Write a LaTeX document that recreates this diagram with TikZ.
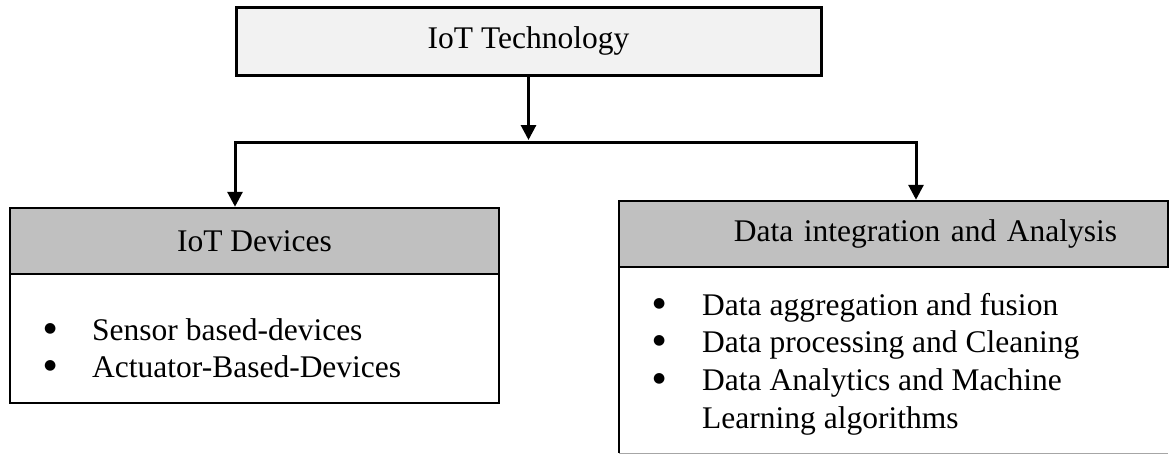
\documentclass[tikz,border=0pt]{standalone}
\usepackage{fontspec}
\setmainfont{Liberation Serif}
\newfontfamily\symfont{DejaVu Sans}
\usetikzlibrary{arrows.meta}
\definecolor{topfill}{HTML}{F2F2F2}
\definecolor{headfill}{HTML}{C0C0C0}
\definecolor{edgegray}{HTML}{A6A6A6}
\newcommand{\bodyfont}{\fontsize{31.5}{37.8}\selectfont}
\newcommand{\bigbullet}{\makebox[16pt]{\raisebox{8pt}{\symfont\fontsize{14}{14}\selectfont ●}}}
\tikzset{
  topbox/.style={draw=black, line width=3pt, fill=topfill, inner sep=0pt,
    font=\bodyfont},
  headbox/.style={draw=black, line width=2.5pt, fill=headfill, inner sep=0pt,
    font=\bodyfont},
  bodybox/.style={draw=black, line width=2pt, inner sep=0pt},
  listtext/.style={inner sep=0pt, anchor=base west, font=\bodyfont},
  conn/.style={line width=3pt, line join=miter},
  arrowconn/.style={conn, -{Triangle[width=15pt,length=15pt]}},
}
\begin{document}
\begin{tikzpicture}[x=1pt, y=-1pt]
\useasboundingbox (0,0) rectangle (1169,453);

% root
\node[topbox, minimum width=585pt, minimum height=68pt] (top) at (528.5,41)
  {IoT Technology};

% left branch: devices
\node[bodybox, minimum width=489pt, minimum height=129pt] (lbody) at (254.5,338.5) {};
\node[headbox, minimum width=489pt, minimum height=66pt] (lhead) at (254.5,241)
  {IoT Devices};
\node[listtext] (litems) at (42,340)
  {\begin{tabular}[t]{@{}p{50pt}@{}l@{}}
   \bigbullet & Sensor based-devices\\
   \bigbullet & Actuator-Based-Devices
   \end{tabular}};

% right branch: data integration
\node[inner sep=0pt, minimum width=549pt, minimum height=186pt] (rbody) at (893.5,360) {};
\draw[line width=2pt] (rbody.north west) -- (rbody.south west);
\draw[edgegray, line width=1.5pt] ([yshift=-1pt]rbody.south west) -- ([yshift=-1pt]rbody.south east);
\node[headbox, minimum width=549pt, minimum height=66pt, text width=447pt,
  inner xsep=51pt, align=right] (rhead) at (893.5,234)
  {Data integration and Analysis};
\node[listtext] (ritems) at (651,315)
  {\begin{tabular}[t]{@{}p{51pt}@{}l@{}}
   \bigbullet & Data aggregation and fusion\\
   \bigbullet & Data processing and Cleaning\\
   \bigbullet & Data Analytics and Machine\\
               & Learning algorithms
   \end{tabular}};

% connectors
\coordinate (barL) at (235,142);
\coordinate (barR) at (916,142);
\coordinate (barM) at (top.south |- barL);
\draw[arrowconn, shorten >=2pt] (top.south) -- (barM);
\draw[arrowconn] (barM) -- (barL) -- (lhead.north -| barL);
\draw[arrowconn] (barM) -- (barR) -- (rhead.north -| barR);
\end{tikzpicture}
\end{document}
